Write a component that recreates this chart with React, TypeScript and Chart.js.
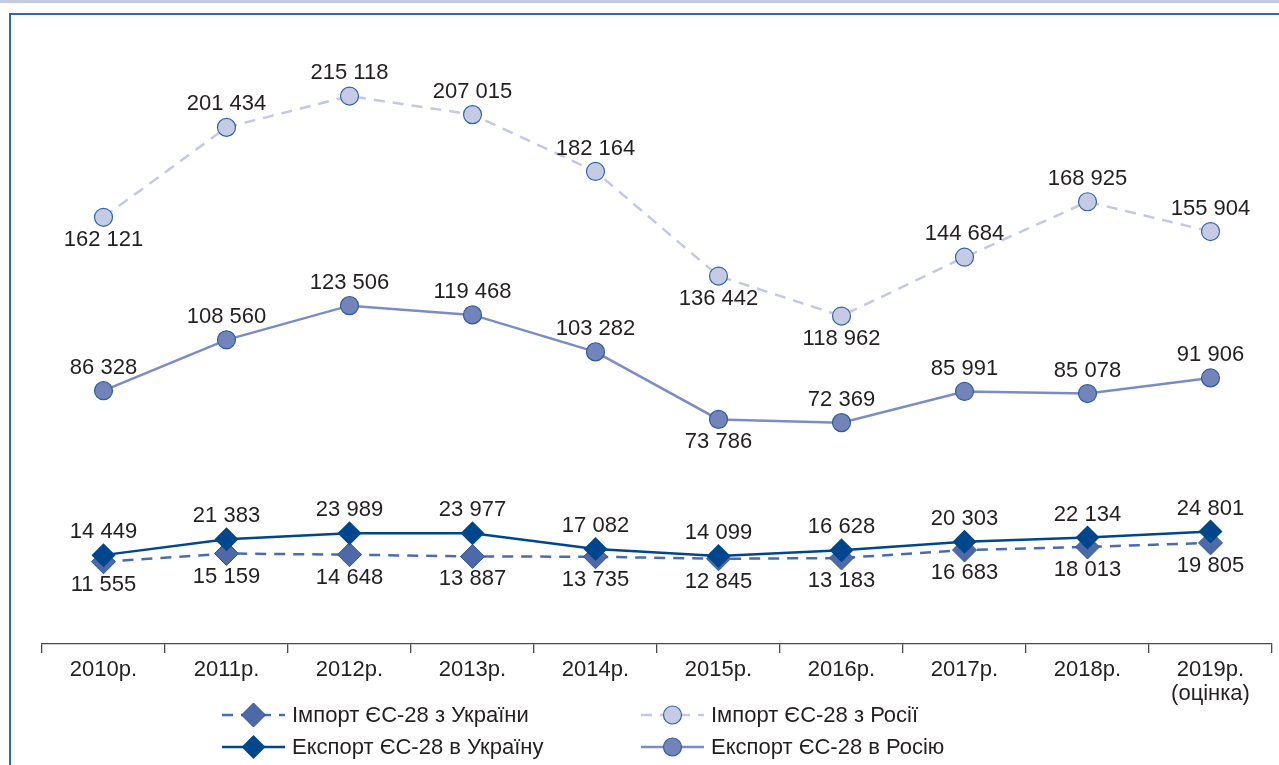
import React, { useEffect, useRef } from "react";
import { Chart, registerables } from "chart.js";

Chart.register(...registerables);

const categories: (string | string[])[] = [
  "2010р.", "2011р.", "2012р.", "2013р.", "2014р.", "2015р.", "2016р.", "2017р.", "2018р.", ["2019р.", "(оцінка)"],
];
const importUkraine = [11555, 15159, 14648, 13887, 13735, 12845, 13183, 16683, 18013, 19805];
const importRussia = [162121, 201434, 215118, 207015, 182164, 136442, 118962, 144684, 168925, 155904];
const exportUkraine = [14449, 21383, 23989, 23977, 17082, 14099, 16628, 20303, 22134, 24801];
const exportRussia = [86328, 108560, 123506, 119468, 103282, 73786, 72369, 85991, 85078, 91906];

const importUkraineLabelSide = ["b", "b", "b", "b", "b", "b", "b", "b", "b", "b"];
const importRussiaLabelSide = ["b", "a", "a", "a", "a", "b", "b", "a", "a", "a"];
const exportUkraineLabelSide = ["a", "a", "a", "a", "a", "a", "a", "a", "a", "a"];
const exportRussiaLabelSide = ["a", "a", "a", "a", "a", "b", "a", "a", "a", "a"];

const seriesNames = [
  "Імпорт ЄС-28 з України",
  "Імпорт ЄС-28 з Росії",
  "Експорт ЄС-28 в Україну",
  "Експорт ЄС-28 в Росію",
];

const FONT = "'Liberation Sans', Arial, Helvetica, sans-serif";
const TEXT = "#231f20";

const fmt = (v: number) => String(v).replace(/\B(?=(\d{3})+(?!\d))/g, " ");

function drawMarker(ctx: CanvasRenderingContext2D, style: string, x: number, y: number, r: number, fill: string, stroke: string, bw: number) {
  ctx.save();
  ctx.beginPath();
  if (style === "circle") {
    ctx.arc(x, y, r, 0, Math.PI * 2);
  } else {
    ctx.moveTo(x, y - r);
    ctx.lineTo(x + r, y);
    ctx.lineTo(x, y + r);
    ctx.lineTo(x - r, y);
    ctx.closePath();
  }
  ctx.fillStyle = fill;
  ctx.fill();
  if (bw > 0) {
    ctx.lineWidth = bw;
    ctx.strokeStyle = stroke;
    ctx.stroke();
  }
  ctx.restore();
}

const labelPlugin = {
  id: "valueLabels",
  afterDatasetsDraw(chart: any) {
    const ctx = chart.ctx as CanvasRenderingContext2D;
    ctx.save();
    ctx.font = `22px ${FONT}`;
    ctx.fillStyle = TEXT;
    ctx.textAlign = "center";
    ctx.textBaseline = "middle";
    chart.data.datasets.forEach((ds: any, di: number) => {
      const meta = chart.getDatasetMeta(di);
      meta.data.forEach((pt: any, i: number) => {
        const side = ds.labelSide[i];
        const dy = side === "a" ? -23 : 23;
        ctx.fillText(fmt(ds.data[i]), pt.x, pt.y + dy);
      });
    });
    ctx.restore();
  },
};

const legendPlugin = {
  id: "customLegend",
  afterDraw(chart: any) {
    const ctx = chart.ctx as CanvasRenderingContext2D;
    const ds = chart.data.datasets;
    const find = (name: string) => ds.find((d: any) => d.label === name);
    const items = [
      { d: find(seriesNames[0]), x: 222, y: 715 },
      { d: find(seriesNames[1]), x: 641, y: 715 },
      { d: find(seriesNames[2]), x: 222, y: 747 },
      { d: find(seriesNames[3]), x: 641, y: 747 },
    ];
    items.forEach(({ d, x, y }) => {
      ctx.save();
      ctx.strokeStyle = d.borderColor;
      ctx.lineWidth = d.borderWidth;
      ctx.setLineDash(d.borderDash || []);
      ctx.beginPath();
      ctx.moveTo(x, y);
      ctx.lineTo(x + 63, y);
      ctx.stroke();
      ctx.restore();
      drawMarker(ctx, d.pointStyle, x + 31.5, y, d.pointRadius, d.pointBackgroundColor, d.pointBorderColor, d.pointBorderWidth);
      ctx.save();
      ctx.font = `22px ${FONT}`;
      ctx.fillStyle = TEXT;
      ctx.textAlign = "left";
      ctx.textBaseline = "middle";
      ctx.fillText(d.label, x + 70, y + 1);
      ctx.restore();
    });
  },
};

export default function App() {
  const ref = useRef<HTMLCanvasElement | null>(null);
  useEffect(() => {
    document.body.style.margin = "0";
    const chart = new Chart(ref.current as HTMLCanvasElement, {
      type: "line",
      data: {
        labels: categories,
        datasets: [
          {
            label: seriesNames[2],
            data: exportUkraine,
            labelSide: exportUkraineLabelSide,
            borderColor: "#00468c",
            borderWidth: 2.5,
            pointStyle: "rectRot",
            pointRadius: 12,
            pointBackgroundColor: "#00468c",
            pointBorderColor: "#00468c",
            pointBorderWidth: 0,
            tension: 0,
          } as any,
          {
            label: seriesNames[0],
            data: importUkraine,
            labelSide: importUkraineLabelSide,
            borderColor: "#4a6cae",
            borderWidth: 2.5,
            borderDash: [11, 8],
            pointStyle: "rectRot",
            pointRadius: 12,
            pointBackgroundColor: "#4d69a8",
            pointBorderColor: "#2b5796",
            pointBorderWidth: 1,
            tension: 0,
          } as any,
          {
            label: seriesNames[3],
            data: exportRussia,
            labelSide: exportRussiaLabelSide,
            borderColor: "#7b8cc4",
            borderWidth: 2.5,
            pointStyle: "circle",
            pointRadius: 9,
            pointBackgroundColor: "#7284b9",
            pointBorderColor: "#2f5d9f",
            pointBorderWidth: 1.2,
            tension: 0,
          } as any,
          {
            label: seriesNames[1],
            data: importRussia,
            labelSide: importRussiaLabelSide,
            borderColor: "#c4c9e2",
            borderWidth: 2.5,
            borderDash: [11, 8],
            pointStyle: "circle",
            pointRadius: 9,
            pointBackgroundColor: "#c5cbe4",
            pointBorderColor: "#3064a8",
            pointBorderWidth: 1.2,
            tension: 0,
          } as any,
        ],
      },
      options: {
        animation: false,
        responsive: false,
        maintainAspectRatio: false,
        events: [],
        layout: { autoPadding: false, padding: { left: 42, right: 7, top: 30, bottom: 0 } },
        plugins: { legend: { display: false }, tooltip: { enabled: false } },
        scales: {
          x: {
            offset: true,
            grid: {
              offset: true,
              drawOnChartArea: false,
              drawTicks: true,
              tickLength: 9,
              color: "#4a4a4a",
              lineWidth: 1.3,
            },
            border: { display: true, color: "#4a4a4a", width: 1.3 },
            ticks: {
              color: TEXT,
              padding: 5,
              maxRotation: 0,
              autoSkip: false,
              font: { family: FONT, size: 22, lineHeight: 1.1 },
            },
            afterFit: (s: any) => {
              s.height = 121;
              s.paddingLeft = 0;
              s.paddingRight = 0;
            },
          },
          y: {
            display: false,
            min: -24400,
            max: 244000,
          },
        },
      },
      plugins: [labelPlugin, legendPlugin],
    });
    return () => chart.destroy();
  }, []);

  return (
    <div style={{ position: "absolute", left: 0, top: 0, width: 1279, height: 765, overflow: "hidden", background: "#fff" }}>
      <div style={{ position: "absolute", left: 0, top: 0, width: 1279, height: 3, background: "#c3c9e3" }} />
      <div
        style={{
          position: "absolute",
          left: 9,
          top: 13,
          width: 1300,
          height: 800,
          borderLeft: "2px solid #2f69aa",
          borderTop: "2px solid #2f69aa",
        }}
      />
      <canvas ref={ref} width={1279} height={765} style={{ position: "absolute", left: 0, top: 0, width: 1279, height: 765 }} />
    </div>
  );
}
